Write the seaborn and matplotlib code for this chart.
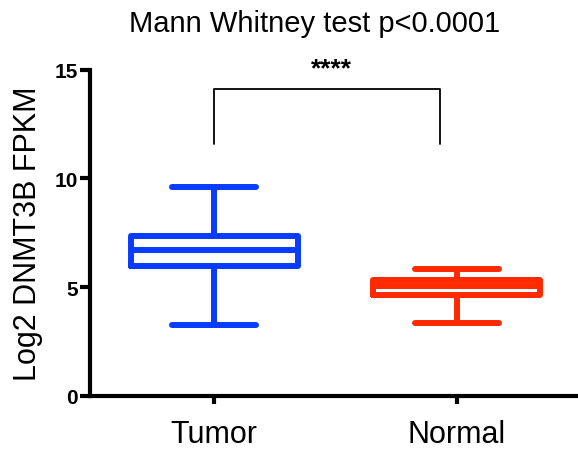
import pandas as pd
import seaborn as sns
import matplotlib.pyplot as plt

# five-number summaries (min, q1, median, q3, max)
groups = ["Tumor", "Normal"]
tumor_values = [3.27, 5.98, 6.70, 7.36, 9.59]
normal_values = [3.35, 4.62, 5.06, 5.33, 5.83]
colors = {"Tumor": "#0A3CFF", "Normal": "#FF2A00"}

title = "Mann Whitney test p<0.0001"
ylabel = "Log2 DNMT3B FPKM"
y_ticks = [0, 5, 10, 15]
sig_label = "****"
bracket_top = 14.13
bracket_bottom = 11.6
bracket_right = 0.93

df = pd.DataFrame({
    "group": ["Tumor"] * len(tumor_values) + ["Normal"] * len(normal_values),
    "value": tumor_values + normal_values,
})

sns.set_style("ticks")
plt.rcParams["font.family"] = ["Liberation Sans", "DejaVu Sans"]
for key in ["text.color", "axes.labelcolor", "xtick.color", "ytick.color",
            "axes.edgecolor"]:
    plt.rcParams[key] = "black"

fig = plt.figure(figsize=(5.78, 4.56), dpi=100)
ax = fig.add_axes([0.156, 0.13, 0.844, 0.715])

sns.boxplot(data=df, x="group", y="value", hue="group", order=groups,
            hue_order=groups, palette=colors, fill=False, width=0.69,
            whis=(0, 100), linewidth=4.3, showfliers=False, legend=False,
            capprops={"solid_capstyle": "round"}, ax=ax)

ax.set_xlim(-0.512, 1.5)
ax.set_ylim(0, 15)
ax.set_yticks(y_ticks)
ax.set_yticklabels([str(t) for t in y_ticks], fontweight="bold", fontsize=15)
ax.tick_params(axis="x", labelsize=22, width=3, length=6, pad=11)
ax.tick_params(axis="y", width=3, length=7, pad=2)
ax.set_xlabel("")
ax.set_ylabel(ylabel, fontsize=22, labelpad=8)
ax.set_title(title, fontsize=21, pad=28, x=0.46)

sns.despine(ax=ax)
for side in ["left", "bottom"]:
    ax.spines[side].set_linewidth(3)

# significance bracket
ax.plot([0, 0, bracket_right, bracket_right],
        [bracket_bottom, bracket_top, bracket_top, bracket_bottom],
        color="black", lw=1.3, clip_on=False)
ax.text(bracket_right / 2 + 0.02, bracket_top + 0.4, sig_label, ha="center",
        va="bottom", fontsize=19, fontweight="bold", clip_on=False)

fig.savefig("out.png", dpi=100)
